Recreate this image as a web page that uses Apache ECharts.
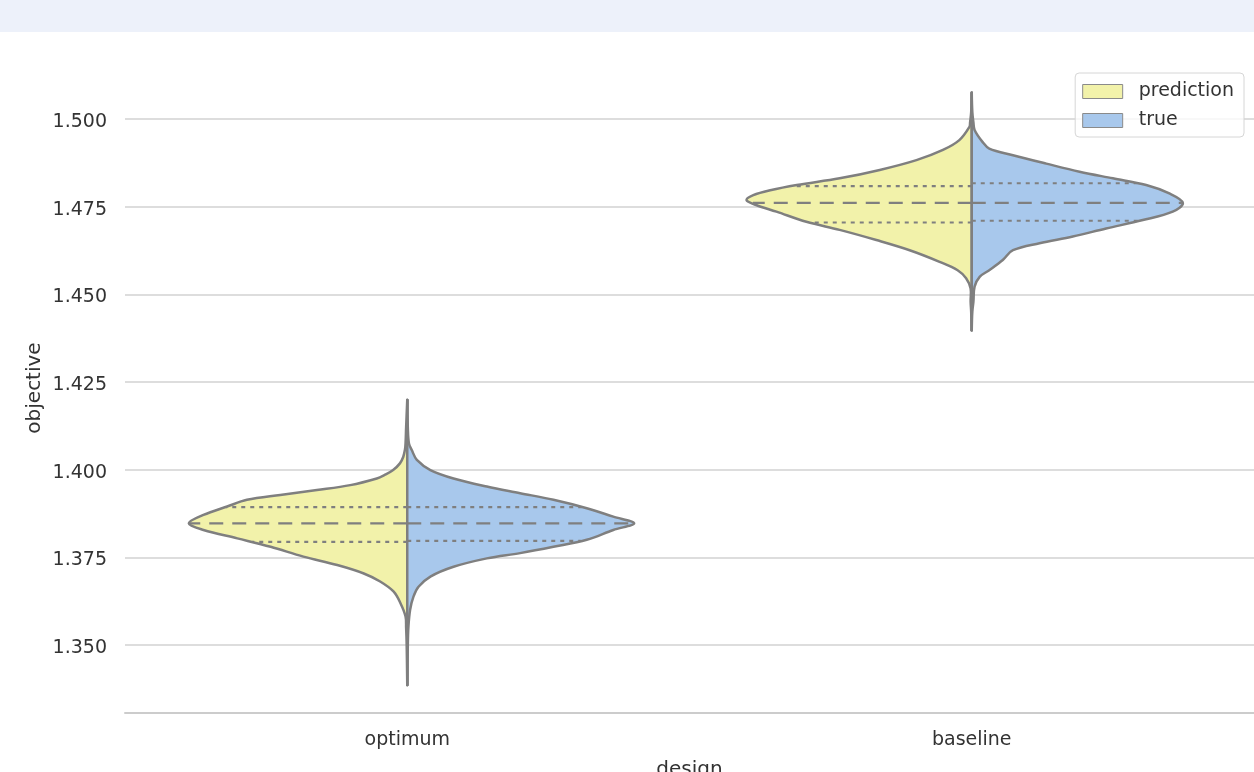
<!DOCTYPE html>
<html>
<head>
<meta charset="utf-8">
<script src="https://cdn.jsdelivr.net/npm/echarts@6/dist/echarts.min.js"></script>
<style>
  html, body { margin: 0; padding: 0; background: #ffffff; }
  #chart { width: 1254px; height: 772px; }
</style>
</head>
<body>
<div id="chart"></div>
<script>
// Designs on the x axis and hue groups of the split violins
const categories = ['optimum', 'baseline'];
const hues = ['prediction', 'true'];
const yTicks = [1.350, 1.375, 1.400, 1.425, 1.450, 1.475, 1.500];

// Density outline of each half violin, from top to bottom:
// [objective, half width as a share of the category band]
const predictionOptimum = [
  [1.4199, 0.000], [1.4120, 0.002], [1.4075, 0.003], [1.4058, 0.004],
  [1.4037, 0.007], [1.4018, 0.013], [1.3999, 0.025], [1.3985, 0.040],
  [1.3975, 0.054], [1.3956, 0.101], [1.3942, 0.160], [1.3928, 0.225],
  [1.3914, 0.284], [1.3895, 0.319], [1.3871, 0.361], [1.3847, 0.387],
  [1.3828, 0.361], [1.3804, 0.301], [1.3780, 0.242], [1.3752, 0.184],
  [1.3728, 0.124], [1.3704, 0.077], [1.3681, 0.048], [1.3652, 0.024],
  [1.3619, 0.012], [1.3581, 0.003], [1.3550, 0.002], [1.3500, 0.001],
  [1.3386, 0.000]
];
const trueOptimum = [
  [1.4199, 0.000], [1.4120, 0.001], [1.4075, 0.003], [1.4056, 0.008],
  [1.4028, 0.017], [1.3999, 0.041], [1.3975, 0.082], [1.3952, 0.141],
  [1.3933, 0.200], [1.3914, 0.259], [1.3890, 0.318], [1.3866, 0.365],
  [1.3847, 0.402], [1.3828, 0.365], [1.3800, 0.318], [1.3780, 0.259],
  [1.3762, 0.200], [1.3747, 0.141], [1.3723, 0.082], [1.3695, 0.041],
  [1.3666, 0.020], [1.3638, 0.011], [1.3600, 0.005], [1.3550, 0.002],
  [1.3500, 0.001], [1.3386, 0.000]
];
const predictionBaseline = [
  [1.5075, 0.000], [1.5020, 0.001], [1.4990, 0.003], [1.4978, 0.004],
  [1.4940, 0.022], [1.4912, 0.051], [1.4883, 0.098], [1.4855, 0.163],
  [1.4831, 0.234], [1.4812, 0.310], [1.4797, 0.357], [1.4783, 0.387],
  [1.4769, 0.399], [1.4755, 0.382], [1.4736, 0.346], [1.4707, 0.293],
  [1.4684, 0.234], [1.4655, 0.169], [1.4626, 0.110], [1.4593, 0.057],
  [1.4569, 0.025], [1.4546, 0.010], [1.4517, 0.002], [1.4480, 0.002],
  [1.4450, 0.001], [1.4398, 0.000]
];
const trueBaseline = [
  [1.5075, 0.000], [1.5020, 0.001], [1.4990, 0.003], [1.4969, 0.005],
  [1.4935, 0.019], [1.4916, 0.031], [1.4897, 0.073], [1.4873, 0.132],
  [1.4850, 0.191], [1.4831, 0.250], [1.4812, 0.309], [1.4788, 0.350],
  [1.4761, 0.374], [1.4736, 0.356], [1.4712, 0.303], [1.4688, 0.238],
  [1.4665, 0.179], [1.4646, 0.120], [1.4626, 0.073], [1.4598, 0.055],
  [1.4569, 0.031], [1.4550, 0.014], [1.4522, 0.005], [1.4480, 0.003],
  [1.4450, 0.001], [1.4398, 0.000]
];

// Quartiles of each half: [Q1, median, Q3]
const predictionQuartiles = [[1.3794, 1.3847, 1.3893], [1.4705, 1.4761, 1.4809]];
const trueQuartiles = [[1.3797, 1.3847, 1.3893], [1.4710, 1.4761, 1.4817]];

const palette = { prediction: '#f2f2aa', true: '#a8c8ec' };
const outline = '#7f7f7f';
const font = 'DejaVu Sans';

// Half width of an outline at a given objective value
function widthAt(profile, v) {
  for (let i = 0; i < profile.length - 1; i++) {
    const a = profile[i], b = profile[i + 1];
    if (v <= a[0] && v >= b[0]) {
      const t = (a[0] - v) / (a[0] - b[0]);
      return a[1] + t * (b[1] - a[1]);
    }
  }
  return 0;
}

function halfViolin(profiles, quartiles, side) {
  return function (params, api) {
    const cat = api.value(0);
    const band = api.size([1, 0])[0];
    const prof = profiles[cat];
    const cx = api.coord([cat, prof[0][0]])[0];
    const pts = prof.map(function (p) {
      return [cx + side * p[1] * band, api.coord([cat, p[0]])[1]];
    });
    const yTop = pts[0][1];
    const yBottom = pts[pts.length - 1][1];

    const children = [
      {
        type: 'polygon',
        shape: { points: pts, smooth: 0.35 },
        style: { fill: api.visual('color'), stroke: null }
      }
    ];
    quartiles[cat].forEach(function (q, k) {
      const y = api.coord([cat, q])[1];
      const w = widthAt(prof, q) * band;
      children.push({
        type: 'line',
        shape: { x1: cx, y1: y, x2: cx + side * (w - 1), y2: y },
        style: {
          stroke: outline,
          lineWidth: 2.2,
          lineDash: k === 1 ? [14, 9] : [4, 5]
        }
      });
    });
    children.push({
      type: 'polyline',
      shape: { points: pts, smooth: 0.35 },
      style: { fill: null, stroke: outline, lineWidth: 2.5, lineJoin: 'round', lineCap: 'round' }
    });
    children.push({
      type: 'line',
      shape: { x1: cx, y1: yTop, x2: cx, y2: yBottom },
      style: { stroke: outline, lineWidth: 2.5, lineCap: 'round' }
    });
    return { type: 'group', children: children };
  };
}

const chart = echarts.init(document.getElementById('chart'), null, { renderer: 'canvas' });

chart.setOption({
  animation: false,
  backgroundColor: '#ffffff',
  textStyle: { fontFamily: font },
  graphic: [{
    type: 'rect',
    left: 0, top: 0,
    shape: { width: 1254, height: 32 },
    style: { fill: '#edf1fa' },
    z: 0
  }],
  grid: {
    left: 125, right: 0, top: 63, bottom: 59,
    containLabel: false,
    outerBoundsMode: 'none'
  },
  legend: {
    orient: 'vertical',
    right: 10,
    top: 73,
    padding: [9, 10, 7, 7],
    itemWidth: 40,
    itemHeight: 14,
    itemGap: 10,
    backgroundColor: 'rgba(255,255,255,0.8)',
    borderColor: '#d6d6d6',
    borderWidth: 1,
    borderRadius: 4,
    icon: 'rect',
    textStyle: { fontFamily: font, fontSize: 19, color: '#333333', lineHeight: 19, padding: [0, 0, 0, 11] },
    data: hues.map(function (h) {
      return { name: h, icon: 'rect', itemStyle: { color: palette[h], borderColor: '#8a8a8a', borderWidth: 1 } };
    })
  },
  xAxis: {
    type: 'category',
    data: categories,
    boundaryGap: true,
    name: 'design',
    nameLocation: 'middle',
    nameGap: 47,
    nameTextStyle: { fontFamily: font, fontSize: 20, color: '#333333' },
    axisLine: { show: true, lineStyle: { color: '#cccccc', width: 2 } },
    axisTick: { show: false },
    axisLabel: { fontFamily: font, fontSize: 19, color: '#333333', margin: 18 },
    splitLine: { show: false }
  },
  yAxis: {
    type: 'value',
    min: 1.3306,
    max: 1.5160,
    name: 'objective',
    nameLocation: 'middle',
    nameGap: 80,
    nameMoveOverlap: false,
    nameTextStyle: { fontFamily: font, fontSize: 20, color: '#333333' },
    axisLine: { show: false },
    axisTick: { show: false, customValues: yTicks },
    axisLabel: {
      customValues: yTicks,
      fontFamily: font, fontSize: 19, color: '#333333', margin: 18,
      formatter: function (v) { return '{t|' + Number(v).toFixed(3) + '}'; },
      rich: {
        t: { fontFamily: font, fontSize: 19, color: '#333333', padding: [6, 0, 0, 0] }
      }
    },
    splitLine: { show: true, lineStyle: { color: '#d2d2d2', width: 1.5 } }
  },
  series: [
    {
      name: 'prediction',
      type: 'custom',
      itemStyle: { color: palette.prediction, borderColor: '#8a8a8a' },
      renderItem: halfViolin([predictionOptimum, predictionBaseline], predictionQuartiles, -1),
      encode: { x: 0, y: 1 },
      data: categories.map(function (c, i) { return [i, predictionQuartiles[i][1]]; }),
      z: 3
    },
    {
      name: 'true',
      type: 'custom',
      itemStyle: { color: palette.true, borderColor: '#8a8a8a' },
      renderItem: halfViolin([trueOptimum, trueBaseline], trueQuartiles, 1),
      encode: { x: 0, y: 1 },
      data: categories.map(function (c, i) { return [i, trueQuartiles[i][1]]; }),
      z: 3
    }
  ]
});
</script>
</body>
</html>
